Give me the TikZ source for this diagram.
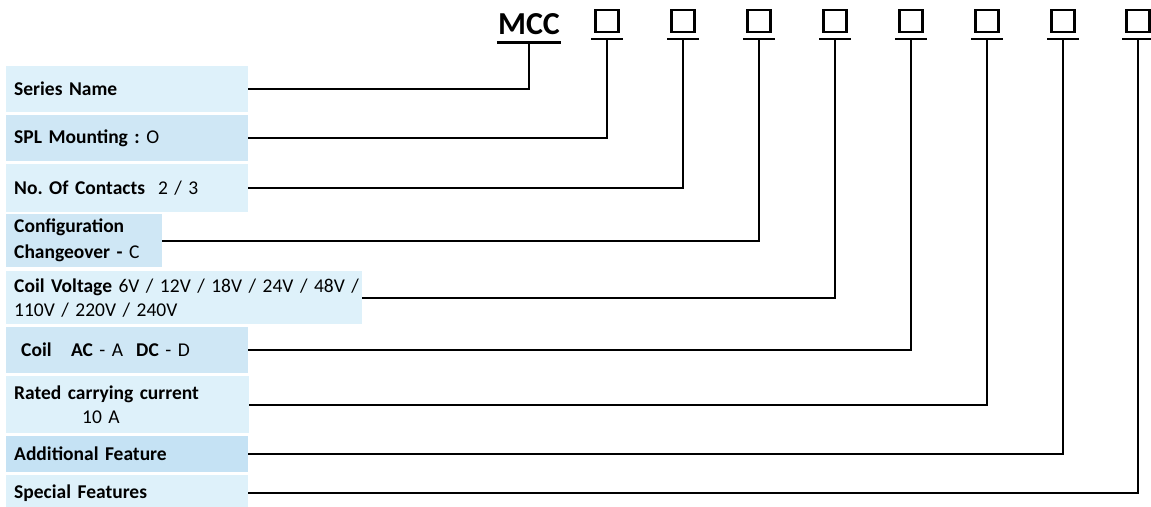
\documentclass[tikz,border=0pt]{standalone}
\usepackage{fontspec}
\setmainfont{Carlito}
\frenchspacing
\usetikzlibrary{positioning,calc}
\definecolor{boxlight}{RGB}{222,241,250}
\definecolor{boxdark}{RGB}{207,231,245}
\definecolor{boxdeep}{RGB}{197,226,244}

\begin{document}
\begin{tikzpicture}[x=1pt,y=-1pt,
  wire/.style={line width=2.2pt},
  field/.style={anchor=north west, inner xsep=8pt, inner ysep=0pt, align=left,
    font=\fontsize{19.5}{24}\selectfont},
  slot/.style={draw, line width=2.5pt, minimum width=23pt, minimum height=22pt, inner sep=0pt}]
  \useasboundingbox (0,0) rectangle (1151,506);
  \node[field, fill=boxlight, text width=226pt, minimum height=46pt] (sname) at (6,66) {\textbf{Series Name}};
  \node[field, fill=boxdark, text width=226pt, minimum height=46pt] (mount) at (6,115) {\textbf{SPL Mounting :} O};
  \node[field, fill=boxlight, text width=226pt, minimum height=48pt] (contacts) at (6,164) {\textbf{No. Of Contacts}\ \ 2 /\ 3};
  \node[field, fill=boxdark, text width=140pt, minimum height=53pt] (config) at (6,214) {\textbf{Configuration}\\[2pt]\textbf{Changeover -} C};
  \node[field, fill=boxlight, text width=340pt, minimum height=53pt] (voltage) at (6,271) {\mbox{\textbf{Coil Voltage} 6V / 12V / 18V / 24V / 48V /}\\110V / 220V / 240V};
  \node[field, fill=boxdark, text width=226pt, minimum height=46pt] (coil) at (6,327) {\hspace*{7pt}\textbf{Coil}\ \ \ \textbf{AC} - A\ \ \textbf{DC} - D};
  \node[field, fill=boxlight, text width=227pt, minimum height=57pt] (current) at (6,376) {\textbf{Rated carrying current}\\\hspace*{68pt}10 A};
  \node[field, fill=boxdeep, text width=226pt, minimum height=36pt] (addl) at (6,436) {\textbf{Additional Feature}};
  \node[field, fill=boxlight, text width=226pt, minimum height=36pt] (special) at (6,475) {\textbf{Special Features}};

  \node[font=\fontsize{32}{32}\selectfont\bfseries, anchor=base, inner sep=0pt] (series) at (529,34) {MCC};
  \draw[line width=3pt] ([xshift=-1pt,yshift=-8pt]series.base west) -- ([xshift=1pt,yshift=-8pt]series.base east);
  \coordinate (s0) at ([yshift=-8pt]series.base);
  \foreach \k/\x in {1/607,2/683,3/759,4/835,5/911,6/987,7/1063,8/1138}{
    \node[slot] (q\k) at (\x,21) {};
    \draw[line width=2.5pt] ([xshift=-3pt,yshift=-5.5pt]q\k.south west) -- ([xshift=3pt,yshift=-5.5pt]q\k.south east);
    \coordinate (s\k) at ([yshift=-5.5pt]q\k.south);
  }

  \draw[wire] (sname.east) -| (s0);
  \draw[wire] (mount.east) -| (s1);
  \draw[wire] (contacts.east) -| (s2);
  \draw[wire] (config.east) -| (s3);
  \draw[wire] (voltage.east) -| (s4);
  \draw[wire] (coil.east) -| (s5);
  \draw[wire] (current.east) -| (s6);
  \draw[wire] (addl.east) -| (s7);
  \draw[wire] (special.east) -| (s8);
\end{tikzpicture}
\end{document}
